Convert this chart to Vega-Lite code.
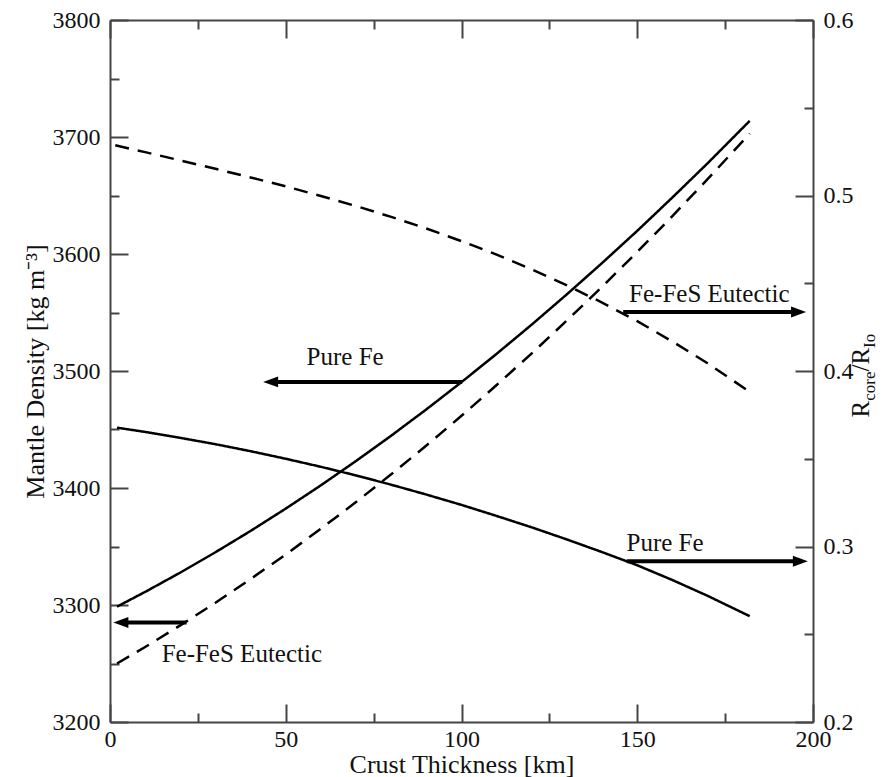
{
  "$schema": "https://vega.github.io/schema/vega-lite/v6.json",
  "width": 703,
  "height": 702,
  "autosize": {"type": "none"},
  "padding": {"left": 110, "top": 20, "right": 80, "bottom": 55},
  "background": "white",
  "config": {
    "view": {"stroke": null},
    "font": "Liberation Serif",
    "text": {"font": "Liberation Serif"},
    "axis": {
      "grid": false,
      "domainColor": "#444",
      "domainWidth": 2,
      "tickColor": "#444",
      "tickWidth": 2,
      "labelFont": "Liberation Serif",
      "labelFontSize": 24,
      "labelColor": "#111",
      "titleFont": "Liberation Serif",
      "titleFontSize": 26,
      "titleFontWeight": "normal",
      "titleColor": "#111",
      "labelFlush": false,
      "labelOverlap": false
    }
  },
  "datasets": {
    "dens": [
      {"km": 2, "val": 3298.6, "series": "Pure Fe"},
      {"km": 10, "val": 3311.2, "series": "Pure Fe"},
      {"km": 20, "val": 3327.7, "series": "Pure Fe"},
      {"km": 30, "val": 3345.1, "series": "Pure Fe"},
      {"km": 40, "val": 3363.3, "series": "Pure Fe"},
      {"km": 50, "val": 3382.4, "series": "Pure Fe"},
      {"km": 60, "val": 3402.3, "series": "Pure Fe"},
      {"km": 70, "val": 3423.1, "series": "Pure Fe"},
      {"km": 80, "val": 3444.7, "series": "Pure Fe"},
      {"km": 90, "val": 3467.2, "series": "Pure Fe"},
      {"km": 100, "val": 3490.5, "series": "Pure Fe"},
      {"km": 110, "val": 3514.7, "series": "Pure Fe"},
      {"km": 120, "val": 3539.7, "series": "Pure Fe"},
      {"km": 130, "val": 3565.6, "series": "Pure Fe"},
      {"km": 140, "val": 3592.3, "series": "Pure Fe"},
      {"km": 150, "val": 3619.8, "series": "Pure Fe"},
      {"km": 160, "val": 3648.3, "series": "Pure Fe"},
      {"km": 170, "val": 3677.5, "series": "Pure Fe"},
      {"km": 182, "val": 3713.8, "series": "Pure Fe"},
      {"km": 2, "val": 3250.0, "series": "Fe-FeS Eutectic"},
      {"km": 10, "val": 3264.1, "series": "Fe-FeS Eutectic"},
      {"km": 20, "val": 3282.6, "series": "Fe-FeS Eutectic"},
      {"km": 30, "val": 3301.9, "series": "Fe-FeS Eutectic"},
      {"km": 40, "val": 3322.2, "series": "Fe-FeS Eutectic"},
      {"km": 50, "val": 3343.2, "series": "Fe-FeS Eutectic"},
      {"km": 60, "val": 3365.2, "series": "Fe-FeS Eutectic"},
      {"km": 70, "val": 3388.0, "series": "Fe-FeS Eutectic"},
      {"km": 80, "val": 3411.7, "series": "Fe-FeS Eutectic"},
      {"km": 90, "val": 3436.3, "series": "Fe-FeS Eutectic"},
      {"km": 100, "val": 3461.7, "series": "Fe-FeS Eutectic"},
      {"km": 110, "val": 3488.0, "series": "Fe-FeS Eutectic"},
      {"km": 120, "val": 3515.1, "series": "Fe-FeS Eutectic"},
      {"km": 130, "val": 3543.2, "series": "Fe-FeS Eutectic"},
      {"km": 140, "val": 3572.0, "series": "Fe-FeS Eutectic"},
      {"km": 150, "val": 3601.8, "series": "Fe-FeS Eutectic"},
      {"km": 160, "val": 3632.4, "series": "Fe-FeS Eutectic"},
      {"km": 170, "val": 3663.9, "series": "Fe-FeS Eutectic"},
      {"km": 182, "val": 3702.9, "series": "Fe-FeS Eutectic"}
    ],
    "rr": [
      {"km": 2, "val": 0.3677, "series": "Pure Fe"},
      {"km": 10, "val": 0.3653, "series": "Pure Fe"},
      {"km": 20, "val": 0.3619, "series": "Pure Fe"},
      {"km": 30, "val": 0.3583, "series": "Pure Fe"},
      {"km": 40, "val": 0.3543, "series": "Pure Fe"},
      {"km": 50, "val": 0.3500, "series": "Pure Fe"},
      {"km": 60, "val": 0.3454, "series": "Pure Fe"},
      {"km": 70, "val": 0.3405, "series": "Pure Fe"},
      {"km": 80, "val": 0.3352, "series": "Pure Fe"},
      {"km": 90, "val": 0.3296, "series": "Pure Fe"},
      {"km": 100, "val": 0.3237, "series": "Pure Fe"},
      {"km": 110, "val": 0.3174, "series": "Pure Fe"},
      {"km": 120, "val": 0.3109, "series": "Pure Fe"},
      {"km": 130, "val": 0.3040, "series": "Pure Fe"},
      {"km": 140, "val": 0.2968, "series": "Pure Fe"},
      {"km": 150, "val": 0.2893, "series": "Pure Fe"},
      {"km": 160, "val": 0.2809, "series": "Pure Fe"},
      {"km": 170, "val": 0.2719, "series": "Pure Fe"},
      {"km": 182, "val": 0.2603, "series": "Pure Fe"},
      {"km": 1.5, "val": 0.5286, "series": "Fe-FeS Eutectic"},
      {"km": 10, "val": 0.5247, "series": "Fe-FeS Eutectic"},
      {"km": 20, "val": 0.5200, "series": "Fe-FeS Eutectic"},
      {"km": 30, "val": 0.5152, "series": "Fe-FeS Eutectic"},
      {"km": 40, "val": 0.5103, "series": "Fe-FeS Eutectic"},
      {"km": 50, "val": 0.5052, "series": "Fe-FeS Eutectic"},
      {"km": 60, "val": 0.4997, "series": "Fe-FeS Eutectic"},
      {"km": 70, "val": 0.4940, "series": "Fe-FeS Eutectic"},
      {"km": 80, "val": 0.4878, "series": "Fe-FeS Eutectic"},
      {"km": 90, "val": 0.4812, "series": "Fe-FeS Eutectic"},
      {"km": 100, "val": 0.4740, "series": "Fe-FeS Eutectic"},
      {"km": 110, "val": 0.4663, "series": "Fe-FeS Eutectic"},
      {"km": 120, "val": 0.4579, "series": "Fe-FeS Eutectic"},
      {"km": 130, "val": 0.4488, "series": "Fe-FeS Eutectic"},
      {"km": 140, "val": 0.4390, "series": "Fe-FeS Eutectic"},
      {"km": 150, "val": 0.4284, "series": "Fe-FeS Eutectic"},
      {"km": 160, "val": 0.4168, "series": "Fe-FeS Eutectic"},
      {"km": 170, "val": 0.4044, "series": "Fe-FeS Eutectic"},
      {"km": 182, "val": 0.3881, "series": "Fe-FeS Eutectic"}
    ],
    "darrow": [
      {"km": 45.7, "km2": 100.2, "val": 3490.7},
      {"km": 3.1, "km2": 21.8, "val": 3285.0}
    ],
    "rarrow": [
      {"km": 195.9, "km2": 146.0, "val": 0.4336},
      {"km": 196.4, "km2": 147.0, "val": 0.2916}
    ],
    "dtext": [
      {"km": 66.9, "val": 3511.7, "label": "Pure Fe"},
      {"km": 37.5, "val": 3257.9, "label": "Fe-FeS Eutectic"}
    ],
    "rtext": [
      {"km": 170.5, "val": 0.4441, "label": "Fe-FeS Eutectic"},
      {"km": 157.9, "val": 0.3021, "label": "Pure Fe"}
    ],
    "rtitle": [
      {"km": 215.8, "val": 0.3735}
    ]
  },
  "layer": [
    {
      "encoding": {
        "x": {
          "field": "km",
          "type": "quantitative",
          "scale": {"domain": [0, 200], "nice": false, "zero": false},
          "axis": {
            "orient": "bottom",
            "values": [0, 25, 50, 75, 100, 125, 150, 175, 200],
            "format": "d",
            "tickSize": {"condition": {"test": "datum.value % 50 === 0", "value": -18}, "value": -9},
            "labelExpr": "datum.value % 50 === 0 ? datum.label : ''",
            "labelPadding": 23,
            "title": "Crust Thickness [km]",
            "titlePadding": -9
          }
        },
        "y": {
          "field": "val",
          "type": "quantitative",
          "scale": {"domain": [3200, 3800], "nice": false, "zero": false},
          "axis": {
            "orient": "left",
            "values": [3200, 3250, 3300, 3350, 3400, 3450, 3500, 3550, 3600, 3650, 3700, 3750, 3800],
            "format": "d",
            "tickSize": {"condition": {"test": "datum.value % 100 === 0", "value": -18}, "value": -9},
            "labelExpr": "datum.value % 100 === 0 ? datum.label : ''",
            "labelPadding": 28,
            "title": "Mantle Density [kg m⁻³]",
            "titlePadding": 4
          }
        }
      },
      "layer": [
        {
          "data": {"name": "dens"},
          "mark": {"type": "line", "color": "#000", "strokeWidth": 2.5},
          "encoding": {
            "strokeDash": {
              "field": "series",
              "type": "nominal",
              "scale": {"domain": ["Pure Fe", "Fe-FeS Eutectic"], "range": [[1, 0], [14, 9]]},
              "legend": null
            }
          }
        },
        {
          "data": {"name": "darrow"},
          "mark": {"type": "rule", "color": "#000", "strokeWidth": 4},
          "encoding": {"x2": {"field": "km2"}}
        },
        {
          "data": {"name": "darrow"},
          "mark": {"type": "point", "shape": "M-1,0L1,-0.73L1,0.73Z", "size": 225, "filled": true, "color": "#000", "opacity": 1, "strokeWidth": 0}
        },
        {
          "data": {"name": "dtext"},
          "mark": {"type": "text", "font": "Liberation Serif", "fontSize": 25, "color": "#111", "align": "center", "baseline": "middle"},
          "encoding": {"text": {"field": "label"}}
        }
      ]
    },
    {
      "encoding": {
        "x": {
          "field": "km",
          "type": "quantitative",
          "scale": {"domain": [0, 200], "nice": false, "zero": false},
          "axis": {
            "orient": "top",
            "values": [0, 25, 50, 75, 100, 125, 150, 175, 200],
            "tickSize": {"condition": {"test": "datum.value % 50 === 0", "value": -18}, "value": -9},
            "labels": false,
            "title": null
          }
        },
        "y": {
          "field": "val",
          "type": "quantitative",
          "scale": {"domain": [0.2, 0.6], "nice": false, "zero": false},
          "axis": {
            "orient": "right",
            "values": [0.2, 0.25, 0.3, 0.35, 0.4, 0.45, 0.5, 0.55, 0.6],
            "format": ".1f",
            "tickSize": {"condition": {"test": "abs(datum.value * 10 - round(datum.value * 10)) < 0.001", "value": -18}, "value": -9},
            "labelExpr": "abs(datum.value * 10 - round(datum.value * 10)) < 0.001 ? datum.label : ''",
            "labelPadding": 28,
            "title": null
          }
        }
      },
      "layer": [
        {
          "data": {"name": "rr"},
          "mark": {"type": "line", "color": "#000", "strokeWidth": 2.5},
          "encoding": {
            "strokeDash": {
              "field": "series",
              "type": "nominal",
              "scale": {"domain": ["Pure Fe", "Fe-FeS Eutectic"], "range": [[1, 0], [14, 9]]},
              "legend": null
            }
          }
        },
        {
          "data": {"name": "rarrow"},
          "mark": {"type": "rule", "color": "#000", "strokeWidth": 4},
          "encoding": {"x2": {"field": "km2"}}
        },
        {
          "data": {"name": "rarrow"},
          "mark": {"type": "point", "shape": "M1,0L-1,-0.73L-1,0.73Z", "size": 225, "filled": true, "color": "#000", "opacity": 1, "strokeWidth": 0}
        },
        {
          "data": {"name": "rtext"},
          "mark": {"type": "text", "font": "Liberation Serif", "fontSize": 25, "color": "#111", "align": "center", "baseline": "middle"},
          "encoding": {"text": {"field": "label"}}
        },
        {
          "data": {"name": "rtitle"},
          "mark": {"type": "text", "text": "R", "font": "Liberation Serif", "fontSize": 25, "color": "#111", "align": "left", "baseline": "alphabetic", "angle": 270, "dx": 0, "dy": 0}
        },
        {
          "data": {"name": "rtitle"},
          "mark": {"type": "text", "text": "core", "font": "Liberation Serif", "fontSize": 17, "color": "#111", "align": "left", "baseline": "alphabetic", "angle": 270, "dx": 16.7, "dy": 6}
        },
        {
          "data": {"name": "rtitle"},
          "mark": {"type": "text", "text": "/R", "font": "Liberation Serif", "fontSize": 25, "color": "#111", "align": "left", "baseline": "alphabetic", "angle": 270, "dx": 46.0, "dy": 0}
        },
        {
          "data": {"name": "rtitle"},
          "mark": {"type": "text", "text": "Io", "font": "Liberation Serif", "fontSize": 17, "color": "#111", "align": "left", "baseline": "alphabetic", "angle": 270, "dx": 69.6, "dy": 6}
        }
      ]
    }
  ],
  "resolve": {"scale": {"y": "independent"}, "axis": {"x": "independent", "y": "independent"}}
}
